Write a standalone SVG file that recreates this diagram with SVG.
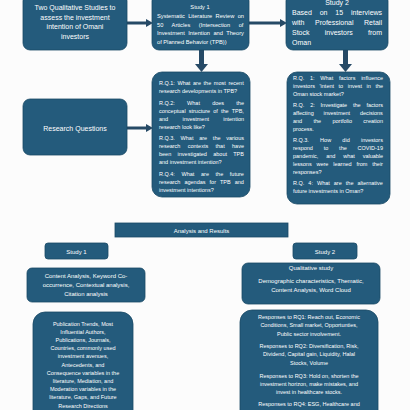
<svg xmlns="http://www.w3.org/2000/svg" width="410" height="410" viewBox="0 0 410 410">
<style>
.box{fill:#245b7c;stroke:#1b4a66;stroke-width:0.8}
.t{font-family:"Liberation Sans",Arial,sans-serif;fill:#ffffff}
.c{text-anchor:middle}
.conn{stroke:#264a66;stroke-width:3;fill:none}
.ah{fill:#264a66}
</style>
<rect x="0" y="0" width="410" height="410" fill="#fcfcfc"/>
<g id="connectors">
<line class="conn" x1="127" y1="23" x2="148" y2="23"/>
<polygon class="ah" points="146,19 153,23 146,27"/>
<line class="conn" x1="249" y1="23" x2="282" y2="23"/>
<polygon class="ah" points="280,19 287,23 280,27"/>
<line class="conn" x1="127" y1="128" x2="148" y2="128"/>
<polygon class="ah" points="146,124 153,128 146,132"/>
<rect class="ah" x="199" y="49" width="5" height="16"/>
<polygon class="ah" points="195,64 208,64 201.5,72"/>
<rect class="ah" x="343" y="49" width="5" height="16"/>
<polygon class="ah" points="339,64 352,64 345.5,72"/>
</g>
<g id="intro">
<rect class="box" x="23" y="-6" width="104" height="56" rx="7"/>
<g class="t c" font-size="7">
<text x="75" y="10">Two Qualitative Studies to</text>
<text x="75" y="19.5">assess the investment</text>
<text x="75" y="29">intention of Omani</text>
<text x="75" y="38.5">investors</text>
</g>
</g>
<g id="study1-top">
<rect class="box" x="152" y="-6" width="97" height="56" rx="7"/>
<g class="t" font-size="5.7">
<text class="c" x="200" y="9">Study 1</text>
<text x="157" y="18" word-spacing="1.8">Systematic Literature Review on</text>
<text x="157" y="26.5" word-spacing="7">50 Articles (Intersection of</text>
<text x="157" y="35" word-spacing="1.8">Investment Intention and Theory</text>
<text x="157" y="43.5">of Planned Behavior (TPB))</text>
</g>
</g>
<g id="study2-top">
<rect class="box" x="286" y="-6" width="102" height="56" rx="7"/>
<g class="t" font-size="7">
<text class="c" x="337" y="5">Study 2</text>
<text x="292" y="15" word-spacing="5.9">Based on 15 interviews</text>
<text x="292" y="25" word-spacing="8.6">with Professional Retail</text>
<text x="292" y="35" word-spacing="13.3">Stock investors from</text>
<text x="292" y="45">Oman</text>
</g>
</g>
<g id="research-questions">
<rect class="box" x="23" y="99" width="104" height="56" rx="7"/>
<text class="t c" x="75" y="130.5" font-size="7">Research Questions</text>
</g>
<g id="rq-study1">
<rect class="box" x="152" y="72" width="98" height="125" rx="10"/>
<g class="t" font-size="5.5">
<text x="159" y="85" word-spacing="1.1">R.Q.1: What are the most recent</text>
<text x="159" y="93">research developments in TPB?</text>
<text x="159" y="104.5" word-spacing="10.7">R.Q.2: What does the</text>
<text x="159" y="112.5" word-spacing="1.6">conceptual structure of the TPB,</text>
<text x="159" y="120.5" word-spacing="12.7">and investment intention</text>
<text x="159" y="128.5">research look like?</text>
<text x="159" y="140" word-spacing="4.2">R.Q.3. What are the various</text>
<text x="159" y="148" word-spacing="5.8">research contexts that have</text>
<text x="159" y="156" word-spacing="4.8">been investigated about TPB</text>
<text x="159" y="164">and investment intention?</text>
<text x="159" y="175.5" word-spacing="5.1">R.Q.4: What are the future</text>
<text x="159" y="183.5" word-spacing="2.5">research agendas for TPB and</text>
<text x="159" y="191.5">investment intentions?</text>
</g>
</g>
<g id="rq-study2">
<rect class="box" x="287" y="72" width="103" height="132" rx="10"/>
<g class="t" font-size="5.5">
<text x="293" y="80" word-spacing="4.2">R.Q. 1: What factors influence</text>
<text x="293" y="88" word-spacing="3">investors 'intent to invest in the</text>
<text x="293" y="96">Oman stock market?</text>
<text x="293" y="107" word-spacing="4.3">R.Q. 2: Investigate the factors</text>
<text x="293" y="115" word-spacing="8.3">affecting investment decisions</text>
<text x="293" y="123" word-spacing="9.8">and the portfolio creation</text>
<text x="293" y="131">process.</text>
<text x="293" y="142" word-spacing="9.7">R.Q.3. How did investors</text>
<text x="293" y="150" word-spacing="9.3">respond to the COVID-19</text>
<text x="293" y="158" word-spacing="6.3">pandemic, and what valuable</text>
<text x="293" y="166" word-spacing="3.3">lessons were learned from their</text>
<text x="293" y="174">responses?</text>
<text x="293" y="185" word-spacing="2.5">R.Q. 4: What are the alternative</text>
<text x="293" y="193">future investments in Oman?</text>
</g>
</g>
<g id="analysis">
<rect class="box" x="115" y="223" width="173" height="14"/>
<text class="t c" x="201.5" y="232.5" font-size="6">Analysis and Results</text>
</g>
<g id="study1-label">
<rect class="box" x="45" y="243" width="63" height="16" rx="3"/>
<text class="t c" x="76.5" y="253.5" font-size="6">Study 1</text>
</g>
<g id="study1-methods">
<rect class="box" x="27" y="268" width="118" height="34" rx="5"/>
<g class="t c" font-size="6">
<text x="86" y="278">Content Analysis, Keyword Co-</text>
<text x="86" y="287">occurrence, Contextual analysis,</text>
<text x="86" y="296">Citation analysis</text>
</g>
</g>
<g id="study2-label">
<rect class="box" x="293" y="243" width="64" height="16" rx="3"/>
<text class="t c" x="325" y="253.5" font-size="6">Study 2</text>
</g>
<g id="study2-methods">
<rect class="box" x="242" y="263" width="138" height="41" rx="6"/>
<g class="t c" font-size="6">
<text x="311" y="270">Qualitative study</text>
<text x="311" y="283">Demographic characteristics, Thematic,</text>
<text x="311" y="292">Content Analysis, Word Cloud</text>
</g>
</g>
<g id="study1-results">
<rect class="box" x="33" y="312" width="100" height="110" rx="12"/>
<g class="t c" font-size="5.5">
<text x="83" y="325.5">Publication Trends, Most</text>
<text x="83" y="333.7">Influential Authors,</text>
<text x="83" y="341.9">Publications, Journals,</text>
<text x="83" y="350.1">Countries, commonly used</text>
<text x="83" y="358.3">investment avenues,</text>
<text x="83" y="366.5">Antecedents, and</text>
<text x="83" y="374.7">Consequence variables in the</text>
<text x="83" y="382.9">literature, Mediation, and</text>
<text x="83" y="391.1">Moderation variables in the</text>
<text x="83" y="399.3">literature, Gaps, and Future</text>
<text x="83" y="407.5">Research Directions</text>
</g>
</g>
<g id="study2-results">
<rect class="box" x="240" y="310" width="138" height="112" rx="12"/>
<g class="t c" font-size="5.5">
<text x="309" y="319">Responses to RQ1: Reach out,  Economic</text>
<text x="309" y="327.3">Conditions, Small market, Opportunties,</text>
<text x="309" y="335.6">Public sector involvement.</text>
<text x="309" y="348">Responses to RQ2: Diversification, Risk,</text>
<text x="309" y="356.3">Dividend, Capital gain, Liquidity, Halal</text>
<text x="309" y="364.6">Stocks, Volume</text>
<text x="309" y="377.5">Responses to RQ3: Hold on, shorten the</text>
<text x="309" y="385.8">investment horizon, make mistakes, and</text>
<text x="309" y="394.1">invest in healthcare stocks.</text>
<text x="309" y="406">Responses to RQ4: ESG, Healthcare and</text>
</g>
</g>
</svg>
